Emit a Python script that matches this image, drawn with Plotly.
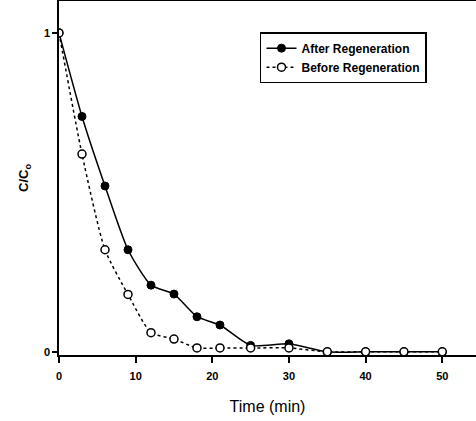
import plotly.graph_objects as go

time_after = [0, 3, 6, 9, 12, 15, 18, 21, 25, 30, 35, 40, 45, 50]
after_regen = [1.0, 0.738, 0.52, 0.32, 0.209, 0.181, 0.11, 0.084, 0.02, 0.025, 0.0, 0.0, 0.0, 0.0]
time_before = [0, 3, 6, 9, 12, 15, 18, 21, 25, 30, 35, 40, 45, 50]
before_regen = [1.0, 0.62, 0.32, 0.18, 0.06, 0.04, 0.012, 0.012, 0.012, 0.012, 0.0, 0.0, 0.0, 0.0]
x_ticks = [0, 10, 20, 30, 40, 50]
y_ticks = [0, 1]

FONT = "Liberation Sans Narrow, Arial Narrow, Liberation Sans, Arial, sans-serif"

fig = go.Figure()
fig.add_trace(go.Scatter(
    x=time_after, y=after_regen, name="<b>After Regeneration</b>",
    mode="lines+markers",
    line=dict(color="black", width=1.5, shape="spline", smoothing=0.6),
    marker=dict(symbol="circle", size=8, color="black", line=dict(color="black", width=1)),
))
fig.add_trace(go.Scatter(
    x=time_before, y=before_regen, name="<b>Before Regeneration</b>",
    mode="lines+markers",
    line=dict(color="black", width=1.5, dash="dot", shape="spline", smoothing=0.6),
    marker=dict(symbol="circle", size=8, color="white", line=dict(color="black", width=1.5)),
))

fig.update_layout(
    width=476, height=421,
    margin=dict(l=59, r=0, t=1, b=66),
    paper_bgcolor="white", plot_bgcolor="white",
    showlegend=True,
    legend=dict(
        x=0.482, y=0.912, xanchor="left", yanchor="top",
        bordercolor="black", borderwidth=1.5, bgcolor="white",
        font=dict(family=FONT, size=12, color="black"),
        itemwidth=30, tracegroupgap=0,
    ),
    font=dict(family="Liberation Sans, Arial, sans-serif", color="black"),
)
fig.update_xaxes(
    range=[0, 54.4], tickvals=x_ticks,
    ticktext=[f"<b>{v}</b>" for v in x_ticks],
    showgrid=False, zeroline=False,
    showline=True, linecolor="black", linewidth=2, mirror=True,
    ticks="outside", ticklen=6, tickwidth=1.5, tickcolor="black",
    ticklabelstandoff=4,
    tickfont=dict(family=FONT, size=11, color="black"),
    title=dict(text="Time (min)", font=dict(family=FONT, size=16, color="black"), standoff=20),
)
fig.update_yaxes(
    range=[-0.01, 1.1], tickvals=y_ticks,
    ticktext=[f"<b>{v}</b>" for v in y_ticks],
    showgrid=False, zeroline=False,
    showline=True, linecolor="black", linewidth=1.5,
    ticks="outside", ticklen=5, tickwidth=1.5, tickcolor="black",
    tickfont=dict(family=FONT, size=11, color="black"),
    title=dict(text="<b>C/C<sub>o</sub></b>", font=dict(family="Liberation Sans, Arial, sans-serif", size=13, color="black"), standoff=12),
)

fig.write_html("out.html")
